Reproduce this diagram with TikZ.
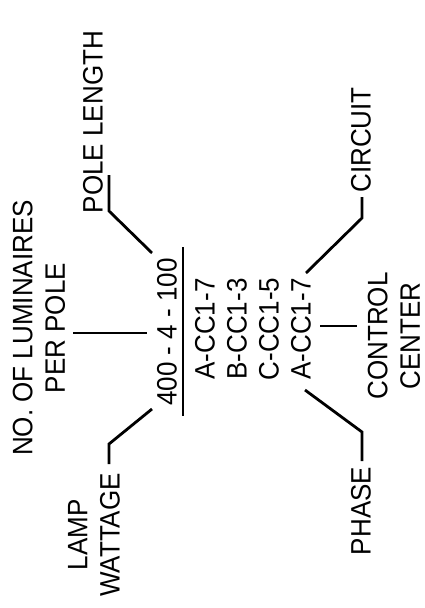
\documentclass[tikz,border=0pt]{standalone}
\usepackage{fontspec}
\setmainfont{Liberation Sans}
\usepackage{tikz}

\begin{document}
\begin{tikzpicture}[x=1pt,y=-1pt,
    lbl/.style = {rotate=90, yscale=1.08, inner sep=0pt, font=\fontsize{26}{30}\selectfont},
    lead/.style = {line width=2.8pt}]
            \useasboundingbox (0,0) rectangle (425,608);

            % labels round the code
            \node[lbl](pole) at (93,122) {POLE LENGTH};
            \node[lbl](circ) at (361,140) {CIRCUIT};
            \node[lbl, align=center](lum) at (39,328) {NO. OF LUMINAIRES\\PER POLE};
            \node[lbl, align=center](lamp) at (94,535) {LAMP\\WATTAGE};
            \node[lbl](phase) at (361,511) {PHASE};
            \node[lbl, align=center](ctrl) at (394,336) {CONTROL\\CENTER};

            % the code itself
            \node[lbl](num) at (167,332) {400 - 4 - 100};
            \node[lbl](c1) at (205,329) {A-CC1-7};
            \node[lbl](c2) at (237,329) {B-CC1-3};
            \node[lbl](c3) at (269,329) {C-CC1-5};
            \node[lbl](c4) at (301,329) {A-CC1-7};

            \coordinate (bar1) at (183,247);
            \coordinate (bar2) at (183,416);
            \draw[lead] (bar1) -- (bar2);

            % leader ends
            \coordinate (p1) at (109,175); \coordinate (p2) at (109,211); \coordinate (p3) at (152,253);
            \coordinate (r1) at (362,197); \coordinate (r2) at (362,218); \coordinate (r3) at (306,273);
            \coordinate (l1) at (73,333);  \coordinate (l2) at (147,333);
            \coordinate (w1) at (109,464); \coordinate (w2) at (109,444); \coordinate (w3) at (152,409);
            \coordinate (h1) at (362,461); \coordinate (h2) at (362,432); \coordinate (h3) at (305,390);
            \coordinate (k1) at (320,326); \coordinate (k2) at (357,326);

            \draw[lead] (p1) -- (p2) -- (p3);
            \draw[lead] (r1) -- (r2) -- (r3);
            \draw[lead] (l1) -- (l2);
            \draw[lead] (w1) -- (w2) -- (w3);
            \draw[lead] (h1) -- (h2) -- (h3);
            \draw[lead] (k1) -- (k2);
\end{tikzpicture}
\end{document}
